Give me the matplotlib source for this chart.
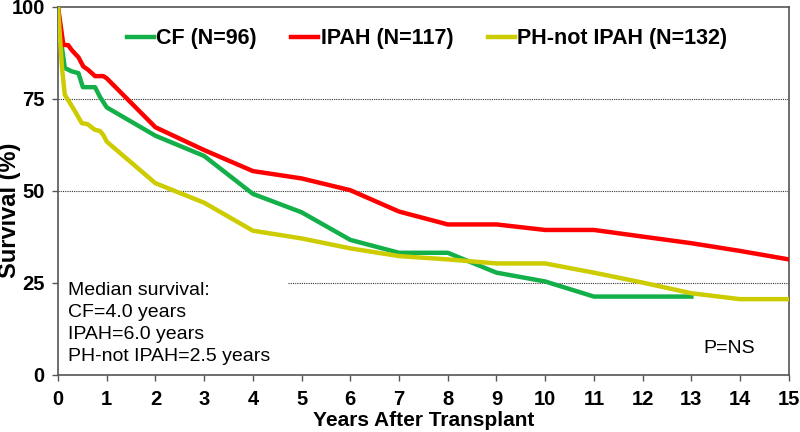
import matplotlib
matplotlib.use('Agg')
import matplotlib.pyplot as plt

plt.rcParams['font.family'] = ['Liberation Sans', 'DejaVu Sans']

# Kaplan-Meier curves (years, survival %)
cf_x = [0, 0.08, 0.14, 0.28, 0.42, 0.51, 0.76, 0.86, 1.0, 2.0, 3.0, 4.0, 5.0, 6.0, 7.0, 8.0, 9.0, 10.0, 11.0, 13.0]
cf_y = [100, 89, 83.4, 82.5, 82, 78.2, 78.2, 75.6, 72.7, 65, 59.5, 49.2, 44.2, 36.7, 33.2, 33.2, 27.8, 25.4, 21.3, 21.3]

ipah_x = [0, 0.11, 0.21, 0.28, 0.42, 0.52, 0.62, 0.76, 0.93, 1.0, 2.0, 3.0, 4.0, 5.0, 6.0, 7.0, 8.0, 9.0, 10.0, 11.0, 12.0, 13.0, 14.0, 15.0]
ipah_y = [100, 89.7, 89.6, 88.3, 86.3, 83.8, 82.9, 81.2, 81.2, 80.6, 67.3, 61.1, 55.4, 53.4, 50.2, 44.4, 40.9, 40.9, 39.4, 39.4, 37.6, 35.8, 33.7, 31.4]

ph_x = [0, 0.08, 0.14, 0.25, 0.35, 0.49, 0.6, 0.76, 0.86, 0.93, 1.0, 2.0, 3.0, 4.0, 5.0, 6.0, 7.0, 8.0, 9.0, 10.0, 11.0, 12.0, 13.0, 14.0, 15.0]
ph_y = [100, 83.8, 76.1, 73.8, 71.6, 68.4, 68.2, 66.6, 66.3, 65.2, 63.4, 52.1, 46.8, 39.2, 37.1, 34.4, 32.3, 31.4, 30.3, 30.3, 27.8, 25.1, 22.2, 20.6, 20.6]

labels = ['CF (N=96)', 'IPAH (N=117)', 'PH-not IPAH (N=132)']
colors = ['#13b04a', '#fe0000', '#cccc00']
x_ticks = list(range(0, 16))
y_ticks = [0, 25, 50, 75, 100]
median_lines = ['Median survival:', 'CF=4.0 years', 'IPAH=6.0 years', 'PH-not IPAH=2.5 years']

fig = plt.figure(figsize=(8, 4.32), dpi=100)
ax = fig.add_axes([0.0725, 0.132, 0.9135, 0.852])

# dotted reference lines (the 25 line is hidden behind the median text)
ax.hlines([75, 50], 0, 15, colors='#333333', linestyles=(0, (1, 1)), linewidth=0.8, zorder=1)
ax.hlines([25], 4.72, 15, colors='#333333', linestyles=(0, (1, 1)), linewidth=0.8, zorder=1)

for xs, ys, lab, col in zip([cf_x, ipah_x, ph_x], [cf_y, ipah_y, ph_y], labels, colors):
    ax.plot(xs, ys, color=col, linewidth=3.2, label=lab, zorder=3, solid_joinstyle='round')

ax.set_xlim(0, 15)
ax.set_ylim(0, 100)
ax.set_xticks(x_ticks)
ax.set_yticks(y_ticks)
ax.tick_params(axis='both', direction='out', length=4.5, width=1, color='#555555',
               labelsize=14.5)
ax.tick_params(axis='x', pad=6)
ax.tick_params(axis='y', pad=5)
for lbl in ax.get_xticklabels() + ax.get_yticklabels():
    lbl.set_fontweight('bold')
for sp in ax.spines.values():
    sp.set_color('#555555')
    sp.set_linewidth(1.2)

ax.set_xlabel('Years After Transplant', fontsize=15, fontweight='bold', labelpad=2)
fig.text(10 / 800, 1 - 210 / 432, 'Survival (%)', rotation=90, ha='center', va='center',
         fontsize=17, fontweight='bold')

leg = ax.legend(loc='upper center', bbox_to_anchor=(0.505, 0.995), ncol=3, frameon=False,
                handlelength=1.25, handletextpad=0.1, columnspacing=1.6,
                prop={'size': 15.5, 'weight': 'bold'})

ax.text(0.2, 2.8, '\n'.join(median_lines), fontsize=14, linespacing=1.38, va='bottom', ha='left')
ax.text(13.24, 5.0, 'P=NS', fontsize=14, va='bottom', ha='left')

fig.savefig('out.png', dpi=100)
